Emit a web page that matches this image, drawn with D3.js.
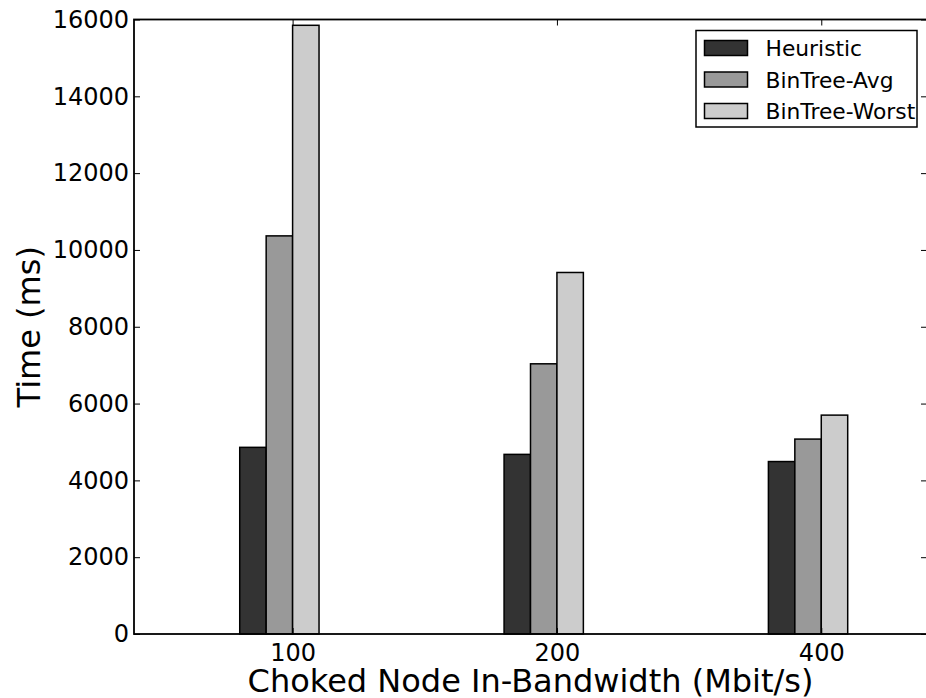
<!DOCTYPE html>
<html>
<head>
<meta charset="utf-8">
<script src="https://cdn.jsdelivr.net/npm/d3@7"></script>
<style>
  html, body { margin: 0; padding: 0; background: #fff; }
  svg { display: block; font-family: "DejaVu Sans", sans-serif; }
</style>
</head>
<body>
<svg id="chart" width="926" height="698"></svg>
<script>
// Bandwidth categories on the x axis
const categories = ["100", "200", "400"];
// Series names and fills
const seriesNames = ["Heuristic", "BinTree-Avg", "BinTree-Worst"];
const seriesColors = ["#333333", "#999999", "#cccccc"];
// Times in ms, one value per category
const heuristic = [4860, 4677, 4490];
const binTreeAvg = [10366, 7035, 5075];
const binTreeWorst = [15849, 9413, 5699];
// Y axis ticks
const yTicks = [0, 2000, 4000, 6000, 8000, 10000, 12000, 14000, 16000];

const series = [heuristic, binTreeAvg, binTreeWorst];
const barWidth = 0.1;

const svg = d3.select("#chart");
const plotLeft = 134, plotRight = 927, plotTop = 19.5, plotBottom = 634;

const x = d3.scaleLinear().domain([-0.4, 2.6]).range([plotLeft, plotRight]);
const y = d3.scaleLinear().domain([0, 16000]).range([plotBottom, plotTop]);

// Bars
series.forEach((vals, s) => {
  svg.append("g").selectAll("rect")
    .data(vals)
    .join("rect")
    .attr("x", (d, i) => x(i + s * barWidth))
    .attr("width", x(barWidth) - x(0))
    .attr("y", d => y(d))
    .attr("height", d => y(0) - y(d))
    .attr("fill", seriesColors[s])
    .attr("stroke", "#000")
    .attr("stroke-width", 1.5);
});

// Axes with inward ticks on all four sides
const tickLen = 6;
const yLeft = d3.axisLeft(y).tickValues(yTicks).tickSize(-tickLen).tickPadding(5).tickFormat(d3.format("d"));
const yRight = d3.axisRight(y).tickValues(yTicks).tickSize(-tickLen).tickFormat("");
const tickPos = categories.map((c, i) => i + 2 * barWidth);
const xBottom = d3.axisBottom(x).tickValues(tickPos).tickSize(-tickLen).tickPadding(10)
  .tickFormat((d, i) => categories[i]);
const xTop = d3.axisTop(x).tickValues(tickPos).tickSize(-tickLen).tickFormat("");

function styleAxis(g) {
  g.select(".domain").remove();
  g.selectAll(".tick line").attr("stroke", "#000").attr("stroke-width", 1);
  g.selectAll(".tick text").attr("font-size", 24).attr("fill", "#000")
    .attr("font-family", "DejaVu Sans, sans-serif");
}

svg.append("g").attr("transform", `translate(${plotLeft},0)`).call(yLeft).call(styleAxis);
svg.append("g").attr("transform", `translate(${plotRight},0)`).call(yRight).call(styleAxis);
svg.append("g").attr("transform", `translate(0,${plotBottom})`).call(xBottom).call(styleAxis);
svg.append("g").attr("transform", `translate(0,${plotTop})`).call(xTop).call(styleAxis);

// Frame
svg.append("rect")
  .attr("x", plotLeft).attr("y", plotTop)
  .attr("width", plotRight - plotLeft).attr("height", plotBottom - plotTop)
  .attr("fill", "none").attr("stroke", "#000").attr("stroke-width", 1.8);

// Axis titles
svg.append("text")
  .attr("x", (plotLeft + plotRight) / 2).attr("y", 692)
  .attr("text-anchor", "middle").attr("font-size", 32).attr("fill", "#000")
  .text("Choked Node In-Bandwidth (Mbit/s)");

svg.append("text")
  .attr("transform", `translate(40,${(plotTop + plotBottom) / 2}) rotate(-90)`)
  .attr("text-anchor", "middle").attr("font-size", 32).attr("fill", "#000")
  .text("Time (ms)");

// Legend
const legend = svg.append("g");
legend.append("rect")
  .attr("x", 696).attr("y", 30.5).attr("width", 221).attr("height", 96.5)
  .attr("fill", "#fff").attr("stroke", "#000").attr("stroke-width", 1.5);
seriesNames.forEach((name, s) => {
  const cy = 48 + s * 31.5;
  legend.append("rect")
    .attr("x", 704.5).attr("y", cy - 7.5).attr("width", 43).attr("height", 15)
    .attr("fill", seriesColors[s]).attr("stroke", "#000").attr("stroke-width", 1.5);
  legend.append("text")
    .attr("x", 765.5).attr("y", cy + 8)
    .attr("font-size", 21.8).attr("fill", "#000")
    .text(name);
});
</script>
</body>
</html>
